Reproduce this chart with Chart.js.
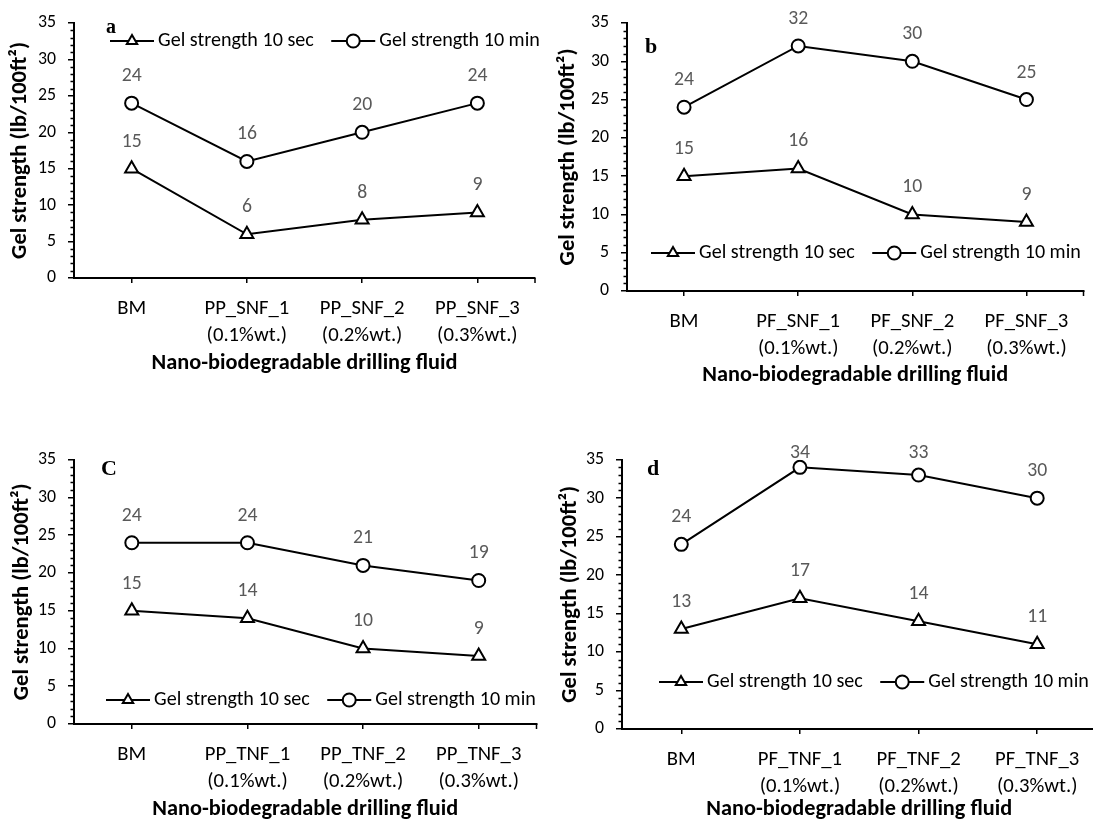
<!DOCTYPE html>
<html>
<head>
<meta charset="utf-8">
<script src="https://cdn.jsdelivr.net/npm/chart.js"></script>
<style>
  body { margin: 0; background: #fff; width: 1093px; height: 819px; position: relative; overflow: hidden; }
  .panel { position: absolute; }
</style>
</head>
<body>
<div class="panel" style="left:0;top:0;width:546px;height:385px"><canvas id="chartA"></canvas></div>
<div class="panel" style="left:546px;top:0;width:547px;height:395px"><canvas id="chartB"></canvas></div>
<div class="panel" style="left:0;top:437px;width:546px;height:390px"><canvas id="chartC"></canvas></div>
<div class="panel" style="left:546px;top:437px;width:560px;height:390px"><canvas id="chartD"></canvas></div>
<script>
// data
const seriesNames = ['Gel strength 10 sec', 'Gel strength 10 min'];
const yTitle = 'Gel strength (lb/100ft²)';
const xTitle = 'Nano-biodegradable drilling fluid';
const yMin = 0, yMax = 35, yStep = 5;

const catsA = ['BM', ['PP_SNF_1', '(0.1%wt.)'], ['PP_SNF_2', '(0.2%wt.)'], ['PP_SNF_3', '(0.3%wt.)']];
const secA = [15, 6, 8, 9];
const minA = [24, 16, 20, 24];

const catsB = ['BM', ['PF_SNF_1', '(0.1%wt.)'], ['PF_SNF_2', '(0.2%wt.)'], ['PF_SNF_3', '(0.3%wt.)']];
const secB = [15, 16, 10, 9];
const minB = [24, 32, 30, 25];

const catsC = ['BM', ['PP_TNF_1', '(0.1%wt.)'], ['PP_TNF_2', '(0.2%wt.)'], ['PP_TNF_3', '(0.3%wt.)']];
const secC = [15, 14, 10, 9];
const minC = [24, 24, 21, 19];

const catsD = ['BM', ['PF_TNF_1', '(0.1%wt.)'], ['PF_TNF_2', '(0.2%wt.)'], ['PF_TNF_3', '(0.3%wt.)']];
const secD = [13, 17, 14, 11];
const minD = [24, 34, 33, 30];

const FONT = 'Carlito, Lato, "Open Sans", sans-serif';

// pick font sizes so the text widths come out like the original figure
const mctx = document.createElement('canvas').getContext('2d');
function fitSize(text, width, weight) {
    mctx.font = (weight || 'normal') + ' 100px ' + FONT;
    return Math.round(1000 * width / mctx.measureText(text).width) / 10;
}
const legendSize = fitSize(seriesNames[0], 156);
const xTickSize = fitSize('PP_SNF_1', 85);
const yTickSize = fitSize('35', 18);
const valueSize = fitSize('24', 20);
const xTitleSize = fitSize(xTitle, 306, 'bold');
const yTitleSize = fitSize(yTitle, 217, 'bold');

// panel letter, inner legend, value labels, minor ticks
const decoPlugin = {
    id: 'deco',
    afterDatasetsDraw(chart, args, opts) {
        const ctx = chart.ctx;
        const area = chart.chartArea;
        ctx.save();

        // minor ticks on y axis, x axis stub left of the y axis
        const ys = chart.scales.y;
        ctx.strokeStyle = '#000';
        ctx.lineWidth = 1.5;
        ctx.beginPath();
        for (let v = yMin; v <= yMax; v++) {
            if (v % yStep === 0) continue;
            const y = Math.round(ys.getPixelForValue(v)) + 0.5;
            ctx.moveTo(area.left - 3.5, y);
            ctx.lineTo(area.left, y);
        }
        // tick at the end of the x axis
        ctx.moveTo(area.right, area.bottom);
        ctx.lineTo(area.right, area.bottom + 5);
        ctx.stroke();

        // value labels
        ctx.font = valueSize + 'px ' + FONT;
        ctx.fillStyle = '#595959';
        ctx.textAlign = 'center';
        ctx.textBaseline = 'middle';
        chart.data.datasets.forEach((ds, i) => {
            chart.getDatasetMeta(i).data.forEach((pt, j) => {
                const y = Math.max(pt.y - 27, opts.labelMinY);
                ctx.fillText(ds.data[j], pt.x, y);
            });
        });

        // panel letter
        ctx.font = 'bold ' + opts.letterSize + 'px "Liberation Serif", "Times New Roman", serif';
        ctx.fillStyle = '#000';
        ctx.textAlign = 'left';
        ctx.textBaseline = 'alphabetic';
        ctx.fillText(opts.letter, opts.letterX, opts.letterY);

        // legend
        let x = opts.legendX;
        const y = opts.legendY;
        ctx.font = legendSize + 'px ' + FONT;
        ctx.textBaseline = 'middle';
        chart.data.datasets.forEach((ds, i) => {
            ctx.strokeStyle = '#000';
            ctx.lineWidth = 2;
            ctx.beginPath();
            ctx.moveTo(x, y);
            ctx.lineTo(x + 44, y);
            ctx.stroke();
            drawMarker(ctx, ds.pointStyle, i === 0 ? 6 : ds.pointRadius, x + 22, y);
            ctx.fillStyle = '#000';
            ctx.fillText(ds.label, x + 48, y);
            x += 48 + ctx.measureText(ds.label).width + 17.5;
        });
        ctx.restore();
    }
};

function drawMarker(ctx, style, r, x, y) {
    ctx.save();
    ctx.fillStyle = '#fff';
    ctx.strokeStyle = '#000';
    ctx.lineWidth = 2;
    ctx.beginPath();
    if (style === 'triangle') {
        let rad = 0;
        ctx.moveTo(x + Math.sin(rad) * r, y - Math.cos(rad) * r);
        rad += Math.PI * 2 / 3;
        ctx.lineTo(x + Math.sin(rad) * r, y - Math.cos(rad) * r);
        rad += Math.PI * 2 / 3;
        ctx.lineTo(x + Math.sin(rad) * r, y - Math.cos(rad) * r);
        ctx.closePath();
    } else {
        ctx.arc(x, y, r, 0, Math.PI * 2);
    }
    ctx.fill();
    ctx.stroke();
    ctx.restore();
}

function makeChart(id, cats, sec, min, d) {
    return new Chart(document.getElementById(id), {
        type: 'line',
        data: {
            labels: cats,
            datasets: [
                {
                    label: seriesNames[0], data: sec,
                    borderColor: '#000', borderWidth: 2, tension: 0,
                    pointStyle: 'triangle', pointRadius: 7.5, pointBorderWidth: 2,
                    pointBackgroundColor: '#fff', pointBorderColor: '#000'
                },
                {
                    label: seriesNames[1], data: min,
                    borderColor: '#000', borderWidth: 2, tension: 0,
                    pointStyle: 'circle', pointRadius: 6.5, pointBorderWidth: 2,
                    pointBackgroundColor: '#fff', pointBorderColor: '#000'
                }
            ]
        },
        options: {
            responsive: true,
            maintainAspectRatio: false,
            animation: false,
            layout: { padding: { left: 0, top: d.top, right: d.right, bottom: 0 } },
            plugins: {
                legend: { display: false },
                tooltip: { enabled: false },
                deco: d
            },
            scales: {
                x: {
                    offset: true,
                    grid: { display: true, drawOnChartArea: false, drawTicks: true, tickLength: 5, color: '#000', lineWidth: 1.5 },
                    border: { display: true, color: '#000', width: 2 },
                    ticks: { color: '#000', font: { family: FONT, size: xTickSize, lineHeight: 1.32 }, padding: 12, maxRotation: 0, autoSkip: false },
                    title: {
                        display: true, text: xTitle, color: '#000',
                        font: { family: FONT, size: xTitleSize, weight: 'bold' },
                        padding: { top: 0, bottom: d.xTitlePad }
                    },
                    afterFit: (s) => { s.height = d.xAxisH; }
                },
                y: {
                    min: yMin, max: yMax,
                    grid: { display: true, drawOnChartArea: false, drawTicks: true, tickLength: 6, color: '#000', lineWidth: 1.5 },
                    border: { display: true, color: '#000', width: 2 },
                    ticks: { stepSize: yStep, color: '#000', font: { family: FONT, size: yTickSize }, padding: 12 },
                    title: {
                        display: true, text: yTitle, color: '#000',
                        font: { family: FONT, size: yTitleSize, weight: 'bold' },
                        padding: { top: d.yTitlePad, bottom: 0 }
                    },
                    afterFit: (s) => { s.width = d.yAxisW; }
                }
            }
        },
        plugins: [decoPlugin]
    });
}

makeChart('chartA', catsA, secA, minA, {
    top: 23, right: 11, xAxisH: 107, yAxisW: 74, xTitlePad: 8, yTitlePad: 7,
    letter: 'a', letterSize: 20, letterX: 106, letterY: 33, legendX: 110, legendY: 41, labelMinY: 16
});
makeChart('chartB', catsB, secB, minB, {
    top: 23, right: 1, xAxisH: 104, yAxisW: 81, xTitlePad: 6, yTitlePad: 9,
    letter: 'b', letterSize: 22, letterX: 99, letterY: 53, legendX: 105, legendY: 253, labelMinY: 16
});
makeChart('chartC', catsC, secC, minC, {
    top: 16, right: 5, xAxisH: 103, yAxisW: 74, xTitlePad: 4, yTitlePad: 9,
    letter: 'C', letterSize: 22, letterX: 101, letterY: 38, legendX: 106, legendY: 263, labelMinY: 16
});
makeChart('chartD', catsD, secD, minD, {
    top: 16, right: 6, xAxisH: 98, yAxisW: 76, xTitlePad: 4, yTitlePad: 11,
    letter: 'd', letterSize: 22, letterX: 101, letterY: 38, legendX: 113, legendY: 245, labelMinY: 16
});
</script>
</body>
</html>
